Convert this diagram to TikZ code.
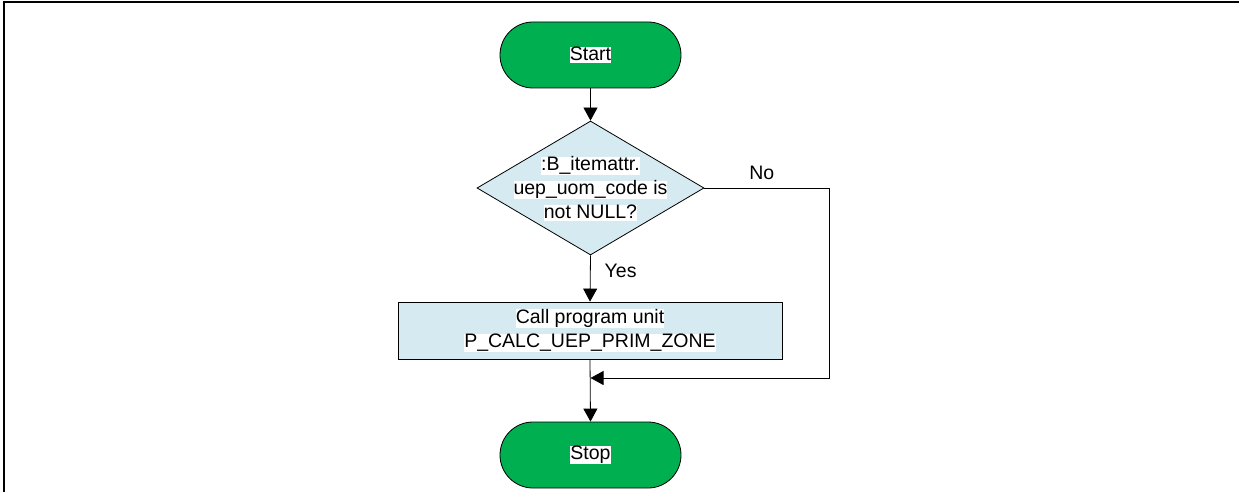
\documentclass[tikz,border=0pt]{standalone}
\usepackage{fontspec}
\setmainfont{Liberation Sans}
\usetikzlibrary{shapes.geometric,arrows.meta}
\definecolor{termgreen}{RGB}{0,176,80}
\definecolor{procblue}{RGB}{214,235,241}
% white highlight behind each text line
\newcommand{\hlw}[1]{{\setlength{\fboxsep}{0pt}\colorbox{white}{\rule[-2.5pt]{0pt}{16.5pt}#1}}}
\begin{document}
\begin{tikzpicture}[x=1pt,y=1pt,
  every node/.style={font=\fontsize{19.5}{24}\selectfont},
  terminal/.style={draw=black, line width=0.8pt, fill=termgreen, rectangle,
    rounded corners=33pt, minimum width=181pt, minimum height=66pt, inner sep=0pt},
  decision/.style={draw=black, line width=0.8pt, fill=procblue, diamond,
    minimum width=227pt, minimum height=134pt, inner sep=0pt},
  process/.style={draw=black, line width=0.8pt, fill=procblue, rectangle,
    minimum width=384pt, minimum height=57pt, inner sep=0pt, align=center},
  flow/.style={draw=black, line width=0.8pt, -{Triangle[length=13pt,width=14pt]}},
  lbl/.style={inner sep=0pt}]
\useasboundingbox (0,0) rectangle (1239,-492);

% frame edges
\draw[line width=2pt] (1239,-2.5) -- (4,-2.5) -- (4,-492);

\node[terminal] (start) at (590.5,-55) {\hlw{Start}};
\node[decision] (dec) at (590.5,-188) {};
\node[align=center, inner sep=0pt] (dectext) at (590.5,-189)
  {\hlw{:B\_itemattr.}\\\hlw{uep\_uom\_code is}\\\hlw{not NULL?}};
\node[process] (call) at (590,-330.5)
  {\hlw{Call program unit}\\\hlw{P\_CALC\_UEP\_PRIM\_ZONE}};
\node[terminal] (stop) at (590.5,-455) {\hlw{Stop}};

\coordinate (ncorner) at (829,-188);
\coordinate (merge) at (590.5,-378);

\draw[flow] (start) -- (dec);
\draw[flow] (dec.south) -- node[lbl, pos=0.34, anchor=west, xshift=14pt] (yes) {Yes} (call.north);
\draw[line width=0.8pt] (dec.east) -- node[lbl, pos=0.46, above=8pt] (no) {No} (ncorner);
\draw[flow] (ncorner) |- (merge);
\draw[flow] (call.south) -- (stop.north);
\end{tikzpicture}
\end{document}
